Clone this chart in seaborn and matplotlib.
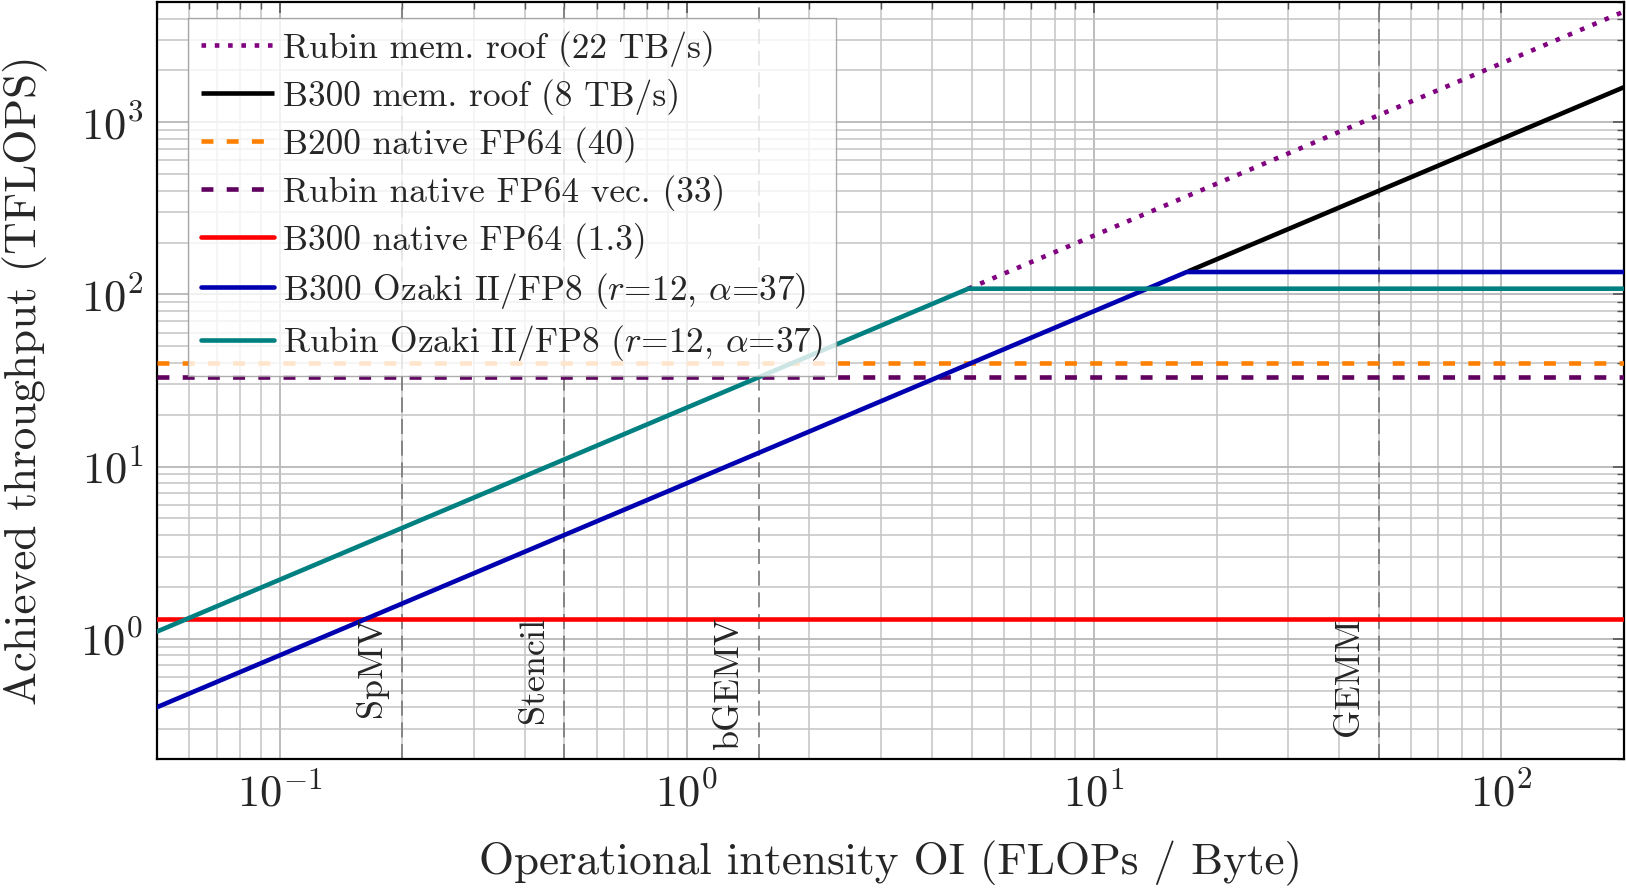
import numpy as np
import pandas as pd
import seaborn as sns
import matplotlib
matplotlib.use("Agg")
import matplotlib.pyplot as plt
from matplotlib.ticker import LogLocator, NullFormatter

# ---- data ----
x_range = [0.05, 200.0]
y_range = [0.2, 5000.0]

roof_names = ["Rubin mem. roof (22 TB/s)", "B300 mem. roof (8 TB/s)"]
roof_bw = [22.0, 8.0]                 # TB/s
roof_start = [4.9, 17.0]              # drawn from the ridge point onward

flat_names = ["B200 native FP64 (40)", "Rubin native FP64 vec. (33)", "B300 native FP64 (1.3)"]
flat_peaks = [40.0, 33.0, 1.3]

ozaki_names = [r"B300 Ozaki II/FP8 ($r$=12, $\alpha$=37)", r"Rubin Ozaki II/FP8 ($r$=12, $\alpha$=37)"]
ozaki_bw = [8.0, 22.0]
ozaki_peak = [135.0, 108.0]

kernel_names = ["SpMV", "Stencil", "bGEMV", "GEMM"]
kernel_oi = [0.2, 0.5, 1.5, 50.0]

# ---- style ----
sns.set_theme(style="white")
plt.rcParams["font.family"] = ["serif"]
plt.rcParams["font.serif"] = ["cmr10", "DejaVu Serif"]
plt.rcParams["mathtext.fontset"] = "cm"
plt.rcParams["axes.formatter.use_mathtext"] = True
plt.rcParams["axes.unicode_minus"] = True

fig = plt.figure(figsize=(16.26, 8.90), dpi=100)
ax = fig.add_axes([157/1626, 1 - 759/890, (1624-157)/1626, (759-2)/890])
ax.set_xscale("log")
ax.set_yscale("log")
ax.set_xlim(*x_range)
ax.set_ylim(*y_range)

LW = 3.3
dash = (0, (2.6, 2.9))

# roofs (memory lines, from ridge onward)
roof_colors = ["#800080", "black"]
roof_styles = [(0, (1, 1.9)), "-"]
for name, bw, xs, c, ls in zip(roof_names, roof_bw, roof_start, roof_colors, roof_styles):
    xx = np.array([xs, x_range[1]])
    sns.lineplot(x=xx, y=bw * xx, ax=ax, color=c, linestyle=ls, lw=LW, label=name,
                 solid_capstyle="butt", dash_capstyle="butt", zorder=4)

flat_colors = ["#ff8000", "#600060", "#ff0000"]
flat_styles = [dash, dash, "-"]
for name, p, c, ls in zip(flat_names, flat_peaks, flat_colors, flat_styles):
    xx = np.array(x_range)
    sns.lineplot(x=xx, y=np.full(2, p), ax=ax, color=c, linestyle=ls, lw=LW, label=name,
                 dash_capstyle="butt", zorder=3)

ozaki_colors = ["#0000b0", "#008080"]
for name, bw, pk, c in zip(ozaki_names, ozaki_bw, ozaki_peak, ozaki_colors):
    ridge = pk / bw
    xx = np.array([x_range[0], ridge, x_range[1]])
    yy = np.minimum(bw * xx, pk)
    sns.lineplot(x=xx, y=yy, ax=ax, color=c, lw=LW, label=name, zorder=5)

# kernel markers
for name, oi in zip(kernel_names, kernel_oi):
    ax.axvline(oi, color="#777777", lw=1.2, linestyle=(0, (9, 4)), zorder=2)
    ax.annotate(name, xy=(oi, 1.33), xytext=(-10, 0), textcoords="offset points",
                rotation=90, ha="right", va="top", fontsize=26, zorder=6)

# grid & ticks
ax.xaxis.set_major_locator(LogLocator(base=10, numticks=20))
ax.xaxis.set_minor_locator(LogLocator(base=10, subs=np.arange(2, 10), numticks=50))
ax.yaxis.set_major_locator(LogLocator(base=10, numticks=20))
ax.yaxis.set_minor_locator(LogLocator(base=10, subs=np.arange(2, 10), numticks=50))
ax.xaxis.set_minor_formatter(NullFormatter())
ax.yaxis.set_minor_formatter(NullFormatter())
ax.grid(True, which="major", color="#b8b8b8", lw=1.3, zorder=0)
ax.grid(True, which="minor", color="#c4c4c4", lw=1.1, zorder=0)
ax.set_axisbelow(True)
ax.tick_params(which="both", direction="in", top=True, right=True, color="#555555")
ax.tick_params(which="major", length=8, width=1.2, labelsize=32, pad=10)
ax.tick_params(which="minor", length=5, width=1.0)
for s in ax.spines.values():
    s.set_color("black")
    s.set_linewidth(1.6)

ax.set_xlabel("Operational intensity OI (FLOPs / Byte)", fontsize=32.5, labelpad=18)
ax.set_ylabel("Achieved throughput (TFLOPS)", fontsize=32.5, labelpad=23)

leg = ax.legend(loc="upper left", bbox_to_anchor=(0.021, 0.979), borderaxespad=0,
                fontsize=25.5, frameon=True, fancybox=False, framealpha=0.8,
                edgecolor="#999999", handlelength=2.06, labelspacing=0.34,
                borderpad=0.36, handletextpad=0.27)
leg.get_frame().set_linewidth(1.0)
leg.set_zorder(10)

fig.savefig("out.png", dpi=100)
